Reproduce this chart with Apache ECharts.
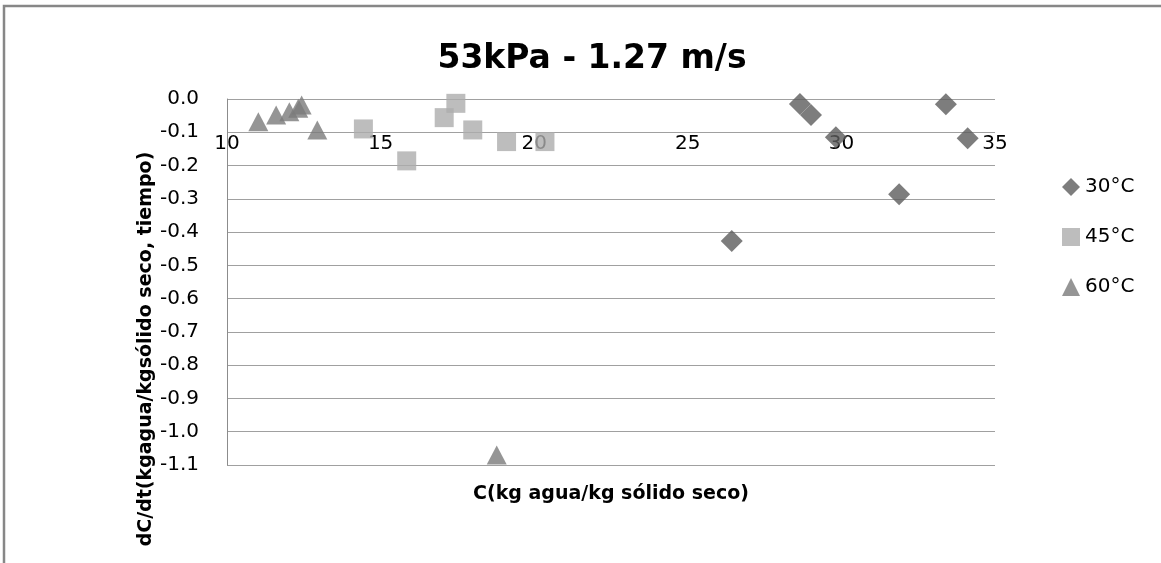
<!DOCTYPE html>
<html>
<head>
<meta charset="utf-8">
<script src="https://cdn.jsdelivr.net/npm/echarts@6/dist/echarts.min.js"></script>
<style>
html,body{margin:0;padding:0;background:#fff;}
#chart{width:1161px;height:563px;}
</style>
</head>
<body>
<div id="chart"></div>
<script>
const titleText = '53kPa - 1.27 m/s';
const xAxisTitle = 'C(kg agua/kg sólido seco)';
const yAxisTitle = 'dC/dt(kgagua/kgsólido seco, tiempo)';
const seriesNames = ['30°C', '45°C', '60°C'];

const c30 = [28.65, 29.01, 29.82, 33.40, 34.11, 31.88, 26.43];
const r30 = [-0.015, -0.048, -0.115, -0.016, -0.118, -0.286, -0.427];

const c45 = [14.44, 15.85, 17.07, 17.45, 18.00, 19.10, 20.35];
const r45 = [-0.090, -0.186, -0.056, -0.013, -0.093, -0.128, -0.128];

const c60 = [11.02, 11.60, 12.03, 12.32, 12.43, 12.94, 18.78];
const r60 = [-0.068, -0.048, -0.038, -0.028, -0.018, -0.093, -1.07];

const xMin = 10, xMax = 35, xStep = 5;
const yMin = -1.1, yMax = 0, yStep = 0.1;

function pairs(xs, ys) { return xs.map((x, i) => [x, ys[i]]); }

const FONT = 'DejaVu Sans';
const chart = echarts.init(document.getElementById('chart'), null, {renderer: 'canvas'});

const gridLeft = 227, gridTop = 99, gridRight = 1161 - 995, gridBottom = 563 - 465;
const plotH = 465 - 99;
const axisYpx = gridTop + plotH * ((yMax - (-0.1)) / (yMax - yMin));
const xOffset = -(465 - axisYpx);

chart.setOption({
  backgroundColor: '#ffffff',
  animation: false,
  title: {
    text: titleText,
    left: 587, top: 38, textAlign: 'center',
    textStyle: {fontFamily: FONT, fontWeight: 'bold', fontSize: 33, color: '#000'}
  },
  grid: {left: gridLeft, right: gridRight, top: gridTop, bottom: gridBottom},
  legend: {
    orient: 'vertical', left: 1057, top: 172,
    itemWidth: 18, itemHeight: 18, itemGap: 30,
    textStyle: {fontFamily: FONT, fontSize: 20, color: '#000'},
    data: seriesNames
  },
  xAxis: {
    type: 'value', min: xMin, max: xMax, interval: xStep,
    position: 'bottom', offset: xOffset,
    name: xAxisTitle, nameLocation: 'middle', nameGap: 485 - axisYpx,
    nameTextStyle: {fontFamily: FONT, fontWeight: 'bold', fontSize: 19, color: '#000'},
    axisLine: {show: false, onZero: false},
    axisTick: {show: false},
    splitLine: {show: false},
    axisLabel: {fontFamily: FONT, fontSize: 20, color: '#000', margin: 2, showMinLabel: true, showMaxLabel: true}
  },
  yAxis: {
    type: 'value', min: yMin, max: yMax, interval: yStep,
    axisLine: {show: true, lineStyle: {color: '#8c8c8c', width: 1}},
    axisTick: {show: false},
    splitLine: {show: true, lineStyle: {color: '#a0a0a0', width: 1}},
    axisLabel: {fontFamily: FONT, fontSize: 20, color: '#000', margin: 28,
      formatter: v => (Math.abs(v) < 1e-9 ? 0 : v).toFixed(1)}
  },
  graphic: [
    {type: 'rect', shape: {x: 4, y: 6, width: 1300, height: 1000}, style: {fill: 'none', stroke: '#878787', lineWidth: 2.5}, silent: true},
    {type: 'text', x: 146, y: 349, rotation: Math.PI / 2,
      style: {text: yAxisTitle, fontFamily: FONT, fontWeight: 'bold', fontSize: 19, fill: '#000', align: 'center', verticalAlign: 'middle'}}
  ],
  series: [
    {name: seriesNames[0], type: 'scatter', symbol: 'diamond', symbolSize: 22,
      itemStyle: {color: '#5c5c5c'}, data: pairs(c30, r30)},
    {name: seriesNames[1], type: 'scatter', symbol: 'rect', symbolSize: 19,
      itemStyle: {color: '#adadad'}, data: pairs(c45, r45)},
    {name: seriesNames[2], type: 'scatter', symbol: 'triangle', symbolSize: [20, 19],
      itemStyle: {color: '#7b7b7b'}, data: pairs(c60, r60)}
  ]
});
</script>
</body>
</html>
